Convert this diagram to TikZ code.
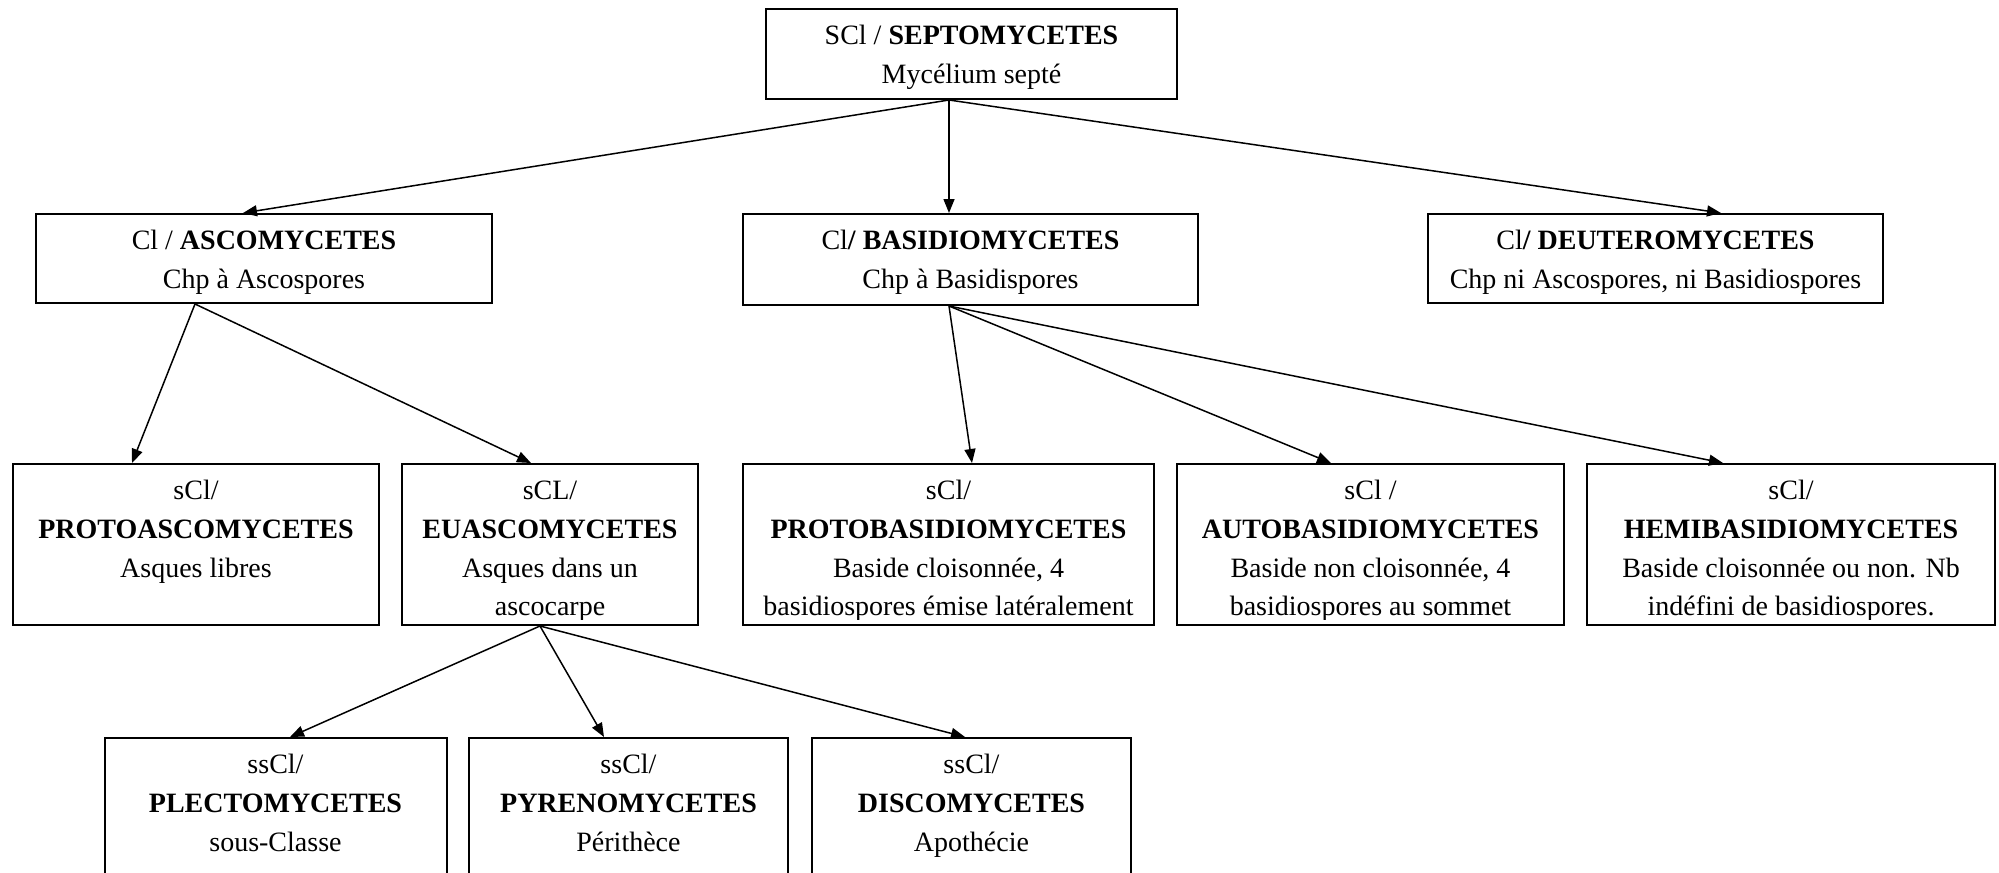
\documentclass[tikz,border=0pt]{standalone}
\usepackage{fontspec}
\setmainfont{Liberation Serif}
\usetikzlibrary{arrows.meta,calc}
\tikzset{
  taxon/.style={draw, line width=1pt, inner sep=0pt},
  boxtext/.style 2 args={path picture={
      \clip ([yshift=3pt]path picture bounding box.south west) rectangle (path picture bounding box.north east);
      \node[anchor=north, align=center, inner sep=0pt,
      minimum width=0pt, minimum height=0pt, font=\fontsize{14}{19.35}\selectfont]
      (#1) at ([yshift=-3.9pt]path picture bounding box.north) {\strut #2};}},
  arr/.style={-{Triangle[length=7pt,width=5.5pt]}, line width=0.75pt}
}
\begin{document}
\begin{tikzpicture}[x=0.5pt,y=-0.5pt]
\useasboundingbox (0,0) rectangle (1999,873);
\clip (0,0) rectangle (1999,873);
% classe
\node[taxon, minimum width=205.5pt, minimum height=45pt,
  boxtext={septo-t}{SCl / \textbf{SEPTOMYCETES}\\Mycélium septé}] (septo) at (971.5,54) {};
% sous-classes
\node[taxon, minimum width=228pt, minimum height=44.5pt,
  boxtext={asco-t}{Cl / \textbf{ASCOMYCETES}\\Chp à Ascospores}] (asco) at (264,258.5) {};
\node[taxon, minimum width=227.5pt, minimum height=45.5pt,
  boxtext={basidio-t}{Cl\textbf{/ BASIDIOMYCETES}\\Chp à Basidispores}] (basidio) at (970.5,259.5) {};
\node[taxon, minimum width=227.5pt, minimum height=44.5pt,
  boxtext={deutero-t}{Cl\textbf{/ DEUTEROMYCETES}\\Chp ni Ascospores, ni Basidiospores}] (deutero) at (1655.5,258.5) {};
% ordres
\node[taxon, minimum width=183pt, minimum height=80.5pt,
  boxtext={protoasco-t}{sCl/\\\textbf{PROTOASCOMYCETES}\\Asques libres}] (protoasco) at (196,544.5) {};
\node[taxon, minimum width=148pt, minimum height=80.5pt,
  boxtext={euasco-t}{sCL/\\\textbf{EUASCOMYCETES}\\Asques dans un\\ascocarpe}] (euasco) at (550,544.5) {};
\node[taxon, minimum width=205.5pt, minimum height=80.5pt,
  boxtext={protobasidio-t}{sCl/\\\textbf{PROTOBASIDIOMYCETES}\\Baside cloisonnée, 4\\basidiospores émise latéralement}] (protobasidio) at (948.5,544.5) {};
\node[taxon, minimum width=193.5pt, minimum height=80.5pt,
  boxtext={autobasidio-t}{sCl /\\\textbf{AUTOBASIDIOMYCETES}\\Baside non cloisonnée, 4\\basidiospores au sommet}] (autobasidio) at (1370.5,544.5) {};
\node[taxon, minimum width=204pt, minimum height=80.5pt,
  boxtext={hemibasidio-t}{sCl/\\\textbf{HEMIBASIDIOMYCETES}\\Baside cloisonnée ou non. Nb\\indéfini de basidiospores.}] (hemibasidio) at (1791,544.5) {};
% sous-sous-classes
\node[taxon, minimum width=171pt, minimum height=75pt,
  boxtext={plecto-t}{ssCl/\\\textbf{PLECTOMYCETES}\\sous-Classe}] (plecto) at (275.5,813) {};
\node[taxon, minimum width=159.5pt, minimum height=75pt,
  boxtext={pyreno-t}{ssCl/\\\textbf{PYRENOMYCETES}\\Périthèce}] (pyreno) at (628.5,813) {};
\node[taxon, minimum width=159.5pt, minimum height=75pt,
  boxtext={disco-t}{ssCl/\\\textbf{DISCOMYCETES}\\Apothécie}] (disco) at (971.5,813) {};
% fleches
\draw[arr] ($(septo.south)+(-22.5,0)$) -- ($(asco.north)+(-21,0)$);
\draw[arr] ($(septo.south)+(-22.5,0)$) -- ($(basidio.north)+(-21.5,0)$);
\draw[arr] ($(septo.south)+(-22.5,0)$) -- ($(deutero.north)+(65.5,0)$);
\draw[arr] ($(asco.south)+(-69,0)$) -- ($(protoasco.north)+(-64,0)$);
\draw[arr] ($(asco.south)+(-69,0)$) -- ($(euasco.north)+(-19,0)$);
\draw[arr] ($(basidio.south)+(-21.5,0)$) -- ($(protobasidio.north)+(23.5,0)$);
\draw[arr] ($(basidio.south)+(-21.5,0)$) -- ($(autobasidio.north)+(-39.5,0)$);
\draw[arr] ($(basidio.south)+(-21.5,0)$) -- ($(hemibasidio.north)+(-68,0)$);
\draw[arr] ($(euasco.south)+(-10,0)$) -- ($(plecto.north)+(14.5,0)$);
\draw[arr] ($(euasco.south)+(-10,0)$) -- ($(pyreno.north)+(-24.5,0)$);
\draw[arr] ($(euasco.south)+(-10,0)$) -- ($(disco.north)+(-6.5,0)$);
\end{tikzpicture}
\end{document}
